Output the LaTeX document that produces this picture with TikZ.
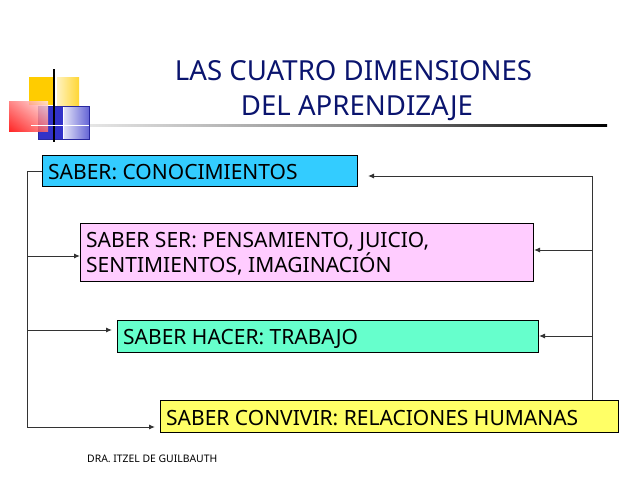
\documentclass[tikz,border=0pt]{standalone}
\usepackage{fontspec}
\setmainfont{Noto Sans}
\usetikzlibrary{arrows.meta,shadings}
\definecolor{titleblue}{RGB}{10,20,110}
\definecolor{logoyellow}{RGB}{255,204,0}
\definecolor{logoblue}{RGB}{50,50,200}
\tikzset{
  dimbox/.style={draw=black,line width=1pt,anchor=north west,inner sep=0pt,minimum width=#1},
  dimtext/.style={anchor=west,font=\fontsize{21}{25}\selectfont,text=black,align=left,inner sep=0pt},
  link/.style={draw=black!80,line width=1pt},
  linkarrow/.style={link,-{Latex[length=6pt,width=5pt]}}
}
\begin{document}
\begin{tikzpicture}[x=1pt,y=-1pt]
\useasboundingbox (0,0) rectangle (640,480);

% logo
\fill[logoyellow] (29,77) rectangle (54,105);
\shade[left color=logoyellow!25,right color=logoyellow!80] (57,77) rectangle (79,106);
\fill[logoblue] (38,106) rectangle (63,139);
\shade[left color=logoblue!15,right color=logoblue!75] (64,106) rectangle (89,139);
\draw[logoblue!80!black] (38,106) rectangle (89,139);
\shade[opacity=0.85,lower left=red,upper right=red!10,lower right=red!55,upper left=red!55] (9,101) rectangle (48,131);
\draw[black,line width=1.2pt] (54,69) -- (54,142);
\shade[left color=black!10,right color=black,middle color=black!45] (90,124.8) rectangle (607,126.4);
\draw[white,line width=1.2pt] (31,125.5) -- (89,125.5);

% title
\node[font=\fontsize{27.6}{35}\selectfont,text=titleblue,align=center,inner sep=0pt] (title) at (353.5,90.5) {LAS CUATRO DIMENSIONES\\\hspace*{7pt}DEL APRENDIZAJE};

% boxes
\node[dimbox=315pt,minimum height=31pt,fill={rgb,255:red,51;green,204;blue,255}] (saber) at (42,155) {};
\node[dimbox=453pt,minimum height=58pt,fill={rgb,255:red,255;green,204;blue,255}] (ser) at (80,223) {};
\node[dimbox=421pt,minimum height=32pt,fill={rgb,255:red,102;green,255;blue,204}] (hacer) at (117,320) {};
\node[dimbox=458pt,minimum height=32pt,fill={rgb,255:red,255;green,255;blue,102}] (convivir) at (160,400) {};

\node[dimtext] (sabertext) at (48,172) {SABER: CONOCIMIENTOS};
\node[dimtext] (sertext) at (86,254) {SABER SER: PENSAMIENTO, JUICIO,\\SENTIMIENTOS, IMAGINACIÓN};
\node[dimtext] (hacertext) at (123,339) {SABER HACER: TRABAJO};
\node[dimtext] (convivirtext) at (166,418) {SABER CONVIVIR: RELACIONES HUMANAS};
\node[font=\fontsize{10.4}{12}\selectfont,inner sep=0pt,anchor=west] (autora) at (87,459) {DRA. ITZEL DE GUILBAUTH};

% left side
\coordinate (lefttop) at (27,171);
\coordinate (leftbottom) at (27,427);
\coordinate (leftser) at (27,256);
\coordinate (lefthacer) at (27,330);
\coordinate (hacerend) at (112,330);
\coordinate (convivirend) at (155,427);
\path[link] (saber.west |- lefttop) -- (lefttop) -- (leftbottom);
\path[linkarrow] (leftbottom) -- (convivirend);
\path[linkarrow] (leftser) -- (ser.west |- leftser);
\path[linkarrow] (lefthacer) -- (hacerend);

% right side
\coordinate (rightbottom) at (592,400);
\coordinate (righttop) at (592,176);
\coordinate (rightser) at (592,250);
\coordinate (righthacer) at (592,336);
\coordinate (saberend) at (368,176);
\path[linkarrow] (rightbottom) -- (righttop) -- (saberend);
\path[linkarrow] (rightser) -- (ser.east |- rightser);
\path[linkarrow] (righthacer) -- (hacer.east |- righthacer);

\end{tikzpicture}
\end{document}
